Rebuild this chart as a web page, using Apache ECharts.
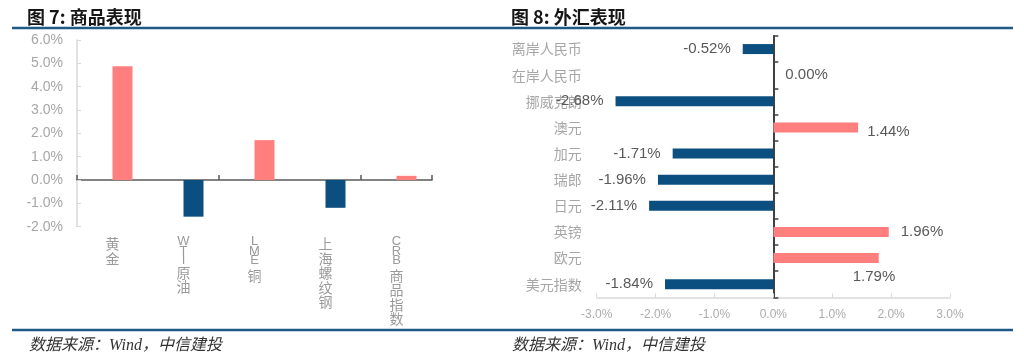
<!DOCTYPE html>
<html><head><meta charset="utf-8">
<script src="https://cdn.jsdelivr.net/npm/echarts@6/dist/echarts.min.js"></script>
<style>html,body{margin:0;padding:0;background:#fff;}#c{width:1024px;height:356px;}</style>
</head><body><div id="c"></div>
<script>
// ---- Data: 图7 商品表现 ----
const commodityCats = ['黄金', 'WTI原油', 'LME 铜', '上海螺纹钢', 'CRB 商品指数'];
const commodityVals = [4.88, -1.57, 1.71, -1.19, 0.18];
const commodityTicks = [-2, -1, 0, 1, 2, 3, 4, 5, 6];

// ---- Data: 图8 外汇表现 ----
const fxCats = ['离岸人民币', '在岸人民币', '挪威克朗', '澳元', '加元', '瑞郎', '日元', '英镑', '欧元', '美元指数'];
const fxVals = [-0.52, 0.00, -2.68, 1.44, -1.71, -1.96, -2.11, 1.96, 1.79, -1.84];
const fxTicks = [-3, -2, -1, 0, 1, 2, 3];

const titles = ['图 7: 商品表现', '图 8: 外汇表现'];
const sourceText = '数据来源：Wind，中信建投';

const UP = '#FF7F7F', DOWN = '#0B4F80';
const FONT = '"Liberation Sans", "Noto Sans CJK SC", sans-serif';
const CJK = '"Noto Sans CJK SC", "Liberation Sans", sans-serif';

// vertical stacked label for category axis of chart 7
function verticalLabel(s) {
  const out = [];
  for (const ch of s) {
    if (ch === ' ') out.push('{s| }');
    else if (/[A-Za-z]/.test(ch)) out.push('{l|' + ch + '}');
    else out.push('{c|' + ch + '}');
  }
  return out.join('\n');
}

// label overrides (style only) for chart 8
const fxLabelOffset = {3: [-3, 4], 8: [-38, 19]};

const chart = echarts.init(document.getElementById('c'), null, {renderer: 'canvas'});
chart.setOption({
  backgroundColor: '#ffffff',
  animation: false,
  title: [
    {text: titles[0], left: 22, top: 3, textStyle: {fontFamily: CJK, fontSize: 18, fontWeight: 'bold', color: '#161616'}},
    {text: titles[1], left: 506, top: 3, textStyle: {fontFamily: CJK, fontSize: 18, fontWeight: 'bold', color: '#161616'}},
    {text: sourceText, left: 24, top: 333, textStyle: {fontFamily: '"Liberation Serif", "Noto Sans CJK SC", serif', fontStyle: 'italic', fontSize: 16, fontWeight: 'normal', color: '#333'}},
    {text: sourceText, left: 507, top: 333, textStyle: {fontFamily: '"Liberation Serif", "Noto Sans CJK SC", serif', fontStyle: 'italic', fontSize: 16, fontWeight: 'normal', color: '#333'}}
  ],
  graphic: [
    {type: 'line', shape: {x1: 12, y1: 28, x2: 1013, y2: 28}, style: {stroke: '#1F5A87', lineWidth: 2.5}, silent: true},
    {type: 'line', shape: {x1: 12, y1: 330, x2: 1013, y2: 330}, style: {stroke: '#1F5A87', lineWidth: 2.5}, silent: true}
  ],
  grid: [
    {left: 77, top: 40, width: 355, height: 186.7},
    {left: 596.7, top: 36, width: 353.3, height: 261.3}
  ],
  xAxis: [
    {type: 'category', gridIndex: 0, data: commodityCats,
      axisLine: {onZero: true, lineStyle: {color: '#595959', width: 1.5}},
      axisTick: {show: true, inside: true, length: 5, lineStyle: {color: '#595959', width: 1.5}},
      axisLabel: {show: false}, splitLine: {show: false}},
    {type: 'category', gridIndex: 0, data: commodityCats, position: 'bottom',
      axisLine: {show: false, onZero: false}, axisTick: {show: false},
      axisLabel: {interval: 0, margin: 10, color: '#9a9a9a', fontFamily: CJK, fontSize: 14,
        formatter: v => verticalLabel(v),
        rich: {
          c: {fontFamily: CJK, fontSize: 14, lineHeight: 14.5, color: '#9a9a9a'},
          l: {fontFamily: FONT, fontSize: 13, lineHeight: 9.5, color: '#9a9a9a'},
          s: {fontSize: 3, lineHeight: 3}
        }}},
    {type: 'value', gridIndex: 1, min: fxTicks[0], max: fxTicks[fxTicks.length - 1], interval: 1,
      axisLine: {show: true, onZero: false, lineStyle: {color: '#d9d9d9', width: 1.5}},
      axisTick: {show: true, inside: true, length: 4, lineStyle: {color: '#d9d9d9'}},
      splitLine: {show: false},
      axisLabel: {margin: 11, color: '#ababab', fontFamily: FONT, fontSize: 12,
        formatter: v => v.toFixed(1) + '%'}}
  ],
  yAxis: [
    {type: 'value', gridIndex: 0, min: commodityTicks[0], max: commodityTicks[commodityTicks.length - 1], interval: 1,
      axisLine: {show: true, lineStyle: {color: '#d9d9d9', width: 1.5}},
      axisTick: {show: true, inside: true, length: 4, lineStyle: {color: '#d9d9d9'}},
      splitLine: {show: false},
      axisLabel: {margin: 14, color: '#a6a6a6', fontFamily: FONT, fontSize: 14,
        formatter: v => v.toFixed(1) + '%'}},
    {type: 'category', gridIndex: 1, data: fxCats, inverse: true, position: 'left',
      axisLine: {onZero: true, lineStyle: {color: '#404040', width: 2}},
      axisTick: {show: true, inside: true, length: 5, lineStyle: {color: '#404040', width: 1.5}},
      axisLabel: {show: false}, splitLine: {show: false}},
    {type: 'category', gridIndex: 1, data: fxCats, inverse: true, position: 'left',
      axisLine: {show: false, onZero: false}, axisTick: {show: false},
      axisLabel: {interval: 0, margin: 15, color: '#a6a6a6', fontFamily: CJK, fontSize: 14}}
  ],
  series: [
    {type: 'bar', name: '', xAxisIndex: 0, yAxisIndex: 0, barWidth: 20, barGap: '0%',
      data: commodityVals.map(() => null), silent: true},
    {type: 'bar', name: '涨跌幅', xAxisIndex: 0, yAxisIndex: 0, barWidth: 20, barGap: '0%',
      data: commodityVals.map(v => ({value: v, itemStyle: {color: v >= 0 ? UP : DOWN}}))},
    {type: 'bar', name: '汇率变动', xAxisIndex: 2, yAxisIndex: 1, barWidth: 10,
      data: fxVals.map((v, i) => ({
        value: v,
        itemStyle: {color: v >= 0 ? UP : DOWN},
        label: {position: v >= 0 ? 'right' : 'left', offset: fxLabelOffset[i] || [0, 0]}
      })),
      label: {show: true, distance: 12, color: '#595959', fontFamily: FONT, fontSize: 15,
        formatter: p => p.value.toFixed(2) + '%'}}
  ]
});
</script></body></html>
